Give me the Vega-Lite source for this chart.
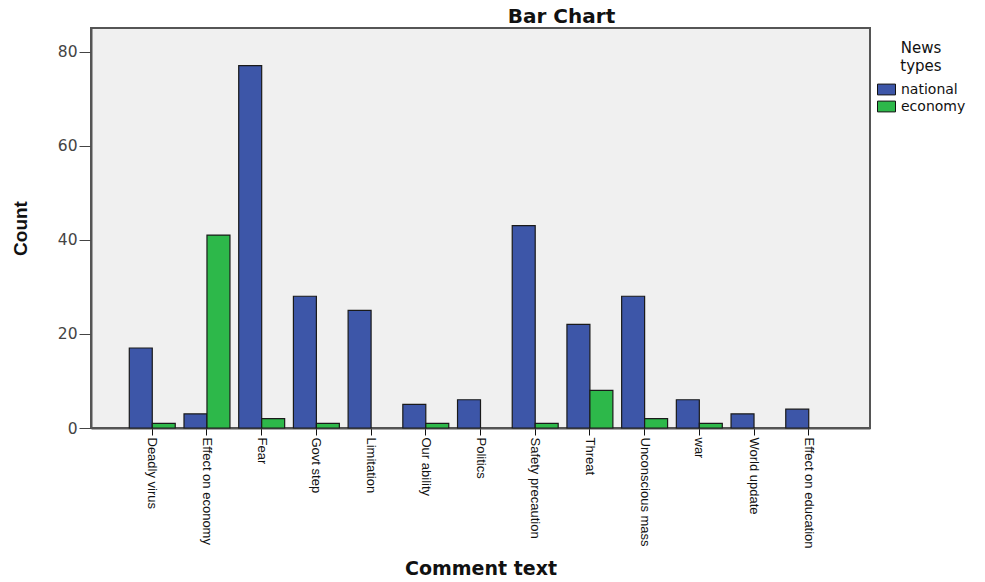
{
  "$schema": "https://vega.github.io/schema/vega-lite/v6.json",
  "width": 779,
  "height": 400,
  "autosize": {"type": "none"},
  "padding": {"left": 91, "top": 28, "right": 115, "bottom": 154},
  "background": "white",
  "title": {"text": "Bar Chart", "fontSize": 20, "font": "DejaVu Sans", "fontWeight": "bold", "color": "#111", "anchor": "middle", "frame": "group", "dx": 81, "offset": 1},
  "data": {"values": [
    {"comment": "Deadly virus", "type": "national", "count": 17},
    {"comment": "Deadly virus", "type": "economy", "count": 1},
    {"comment": "Effect on economy", "type": "national", "count": 3},
    {"comment": "Effect on economy", "type": "economy", "count": 41},
    {"comment": "Fear", "type": "national", "count": 77},
    {"comment": "Fear", "type": "economy", "count": 2},
    {"comment": "Govt step", "type": "national", "count": 28},
    {"comment": "Govt step", "type": "economy", "count": 1},
    {"comment": "Limitation", "type": "national", "count": 25},
    {"comment": "Our ability", "type": "national", "count": 5},
    {"comment": "Our ability", "type": "economy", "count": 1},
    {"comment": "Politics", "type": "national", "count": 6},
    {"comment": "Safety precaution", "type": "national", "count": 43},
    {"comment": "Safety precaution", "type": "economy", "count": 1},
    {"comment": "Threat", "type": "national", "count": 22},
    {"comment": "Threat", "type": "economy", "count": 8},
    {"comment": "Unconscious mass", "type": "national", "count": 28},
    {"comment": "Unconscious mass", "type": "economy", "count": 2},
    {"comment": "war", "type": "national", "count": 6},
    {"comment": "war", "type": "economy", "count": 1},
    {"comment": "World update", "type": "national", "count": 3},
    {"comment": "Effect on education", "type": "national", "count": 4}
  ]},
  "mark": {"type": "bar", "stroke": "#1a1a1a", "strokeWidth": 1.2},
  "encoding": {
    "x": {
      "field": "comment", "type": "nominal",
      "sort": ["Deadly virus", "Effect on economy", "Fear", "Govt step", "Limitation", "Our ability", "Politics", "Safety precaution", "Threat", "Unconscious mass", "war", "World update", "Effect on education"],
      "scale": {"paddingInner": 0.16, "paddingOuter": 0.7},
      "axis": {
        "title": "Comment text", "titleFont": "DejaVu Sans", "titleFontSize": 19, "titleFontWeight": "bold", "titleColor": "#111",
        "titleY": 140, "titleBaseline": "middle",
        "labelAngle": 90, "labelAlign": "left", "labelBaseline": "middle", "labelFontSize": 13, "labelColor": "#111",
        "labelPadding": 2, "tickColor": "#111", "tickSize": 7, "domainColor": "#555", "domainWidth": 2
      }
    },
    "xOffset": {"field": "type", "sort": ["national", "economy"]},
    "y": {
      "field": "count", "type": "quantitative",
      "scale": {"domain": [0, 85], "nice": false},
      "axis": {
        "values": [0, 20, 40, 60, 80], "grid": false, "title": "Count", "titleFontSize": 19, "titleFontWeight": "bold", "titleColor": "#111",
        "titleX": -71, "titleY": 200, "titleAlign": "center", "titleBaseline": "middle",
        "labelFont": "DejaVu Sans", "labelFontSize": 15.5, "labelColor": "#444", "labelPadding": 2, "tickSize": 12, "tickColor": "#444", "domainColor": "#555", "domainWidth": 2
      }
    },
    "color": {
      "field": "type", "type": "nominal",
      "scale": {"domain": ["national", "economy"], "range": ["#3D56A8", "#2DB84A"]},
      "legend": {
        "orient": "none", "legendX": 786, "legendY": 13, "padding": 0,
        "title": ["News", "types"], "titleFont": "DejaVu Sans", "titleFontSize": 15, "titleFontWeight": "normal", "titleColor": "#111", "titleAnchor": "middle", "titleLineHeight": 18, "titlePadding": 6,
        "labelFont": "DejaVu Sans", "labelFontSize": 14, "labelColor": "#111", "labelOffset": 5,
        "symbolType": "M-1,-0.6H1V0.6H-1Z", "symbolSize": 324, "symbolStrokeColor": "#111", "symbolStrokeWidth": 1, "symbolOpacity": 1,
        "rowPadding": -2
      }
    }
  },
  "config": {
    "font": "Liberation Sans",
    "view": {"stroke": "#555", "strokeWidth": 2, "fill": "#F0F0F0"}
  }
}
